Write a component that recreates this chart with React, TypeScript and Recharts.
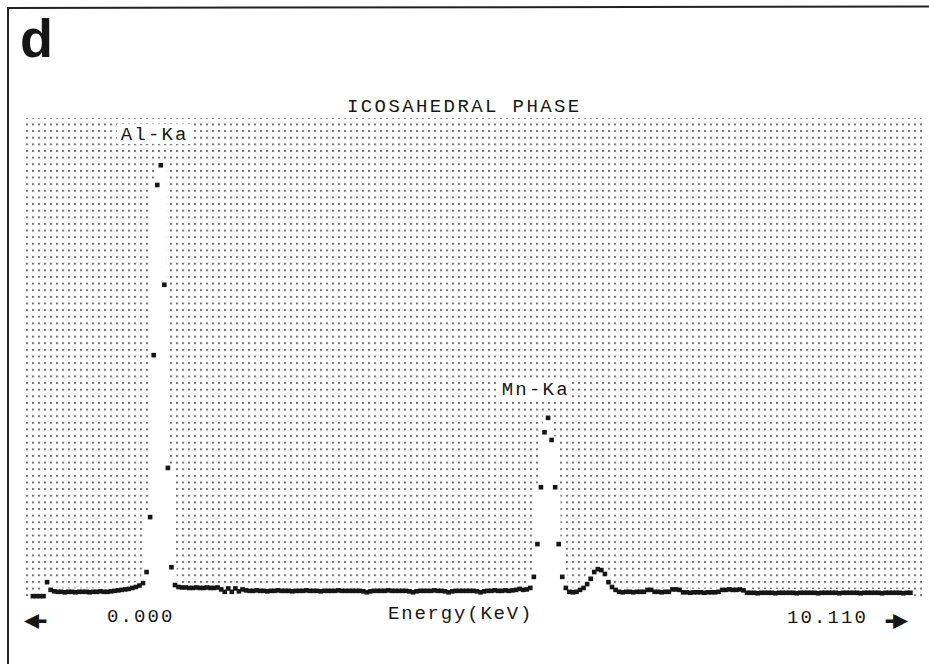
import { ComposedChart, Area, Line, XAxis, YAxis, CartesianGrid, ReferenceDot } from 'recharts'

// channel calibration of the analyser (keV)
const FIRST_CHANNEL_KEV = 0.1
const KEV_PER_CHANNEL = 0.04
const ENERGY_RANGE: [number, number] = [0, 10.11]
const COUNT_RANGE: [number, number] = [0, 1000]

// counts per channel
const counts = [
  8, 8, 8, 8, 37, 21,
  18, 17, 17, 16, 17, 17, 16, 17, 17, 17, 16, 17, 17, 18, 17, 17,
  18, 19, 20,
  21, 22, 23, 25, 27, 30, 35,
  58, 172, 508, 861, 902, 654, 274, 68, 31,
  27, 26, 26, 25, 25, 26, 25, 25, 26, 25, 25, 26,
  22, 17, 24, 17, 24, 18, 22,
  20, 19, 19, 20, 19, 19, 18, 19, 19, 20,
  19, 19, 19, 18, 19, 19, 19, 20, 19, 19,
  19, 18, 19, 19, 19, 19, 20, 19, 19, 19,
  19, 19, 19, 18, 16, 18, 19, 19, 19, 19,
  20, 19, 19, 19, 19, 19, 18, 16, 18, 19,
  19, 19, 19, 20, 19, 19, 18, 16, 18, 19,
  19, 19, 19, 19, 19, 18, 16, 18, 19, 19,
  20, 19, 19, 20, 19, 20, 21, 23, 21, 22,
  25, 48, 116, 234, 348, 378, 332, 234, 116, 48, 25,
  17, 16, 17, 21, 25, 33, 44, 58, 64, 62, 54, 37, 27, 21,
  17, 16, 17, 17, 16, 17, 17, 17,
  21, 21,
  17, 17, 16, 17, 17,
  22, 22, 21,
  16, 16, 15, 16, 16, 16, 15, 16, 16, 16, 17,
  21, 21, 22, 21, 21, 22, 20,
  15, 15, 15, 14, 15, 15, 15, 15, 14, 15,
  15, 15, 15, 15, 14, 15, 15, 15, 15, 15,
  14, 15, 15, 15, 15, 15, 14, 15, 15, 15,
  15, 15, 14, 15, 15, 15, 15, 15, 14, 15,
  15, 15, 15, 15, 14, 15, 15,
]

// peak annotations (keV, counts where the label sits)
const peakLabels = [
  { name: 'Al-Ka', kev: 1.46, count: 967 },
  { name: 'Mn-Ka', kev: 5.75, count: 438 },
]

const panelLetter = 'd'
const title = 'ICOSAHEDRAL PHASE'
const energyStart = '0.000'
const energyEnd = '10.110'
const axisTitle = 'Energy(KeV)'

const INK = '#161616'
const MONO = '"Liberation Mono", "DejaVu Sans Mono", monospace'

const spectrum = counts.map((c, i) => ({
  kev: FIRST_CHANNEL_KEV + i * KEV_PER_CHANNEL,
  counts: c,
}))

// square dots like the screen pixels
const SquareDot = (props: any) => {
  const { cx, cy, index } = props
  if (cx == null || cy == null) return <g key={`sq-${index}`} />
  return <rect key={`sq-${index}`} x={cx - 2.3} y={cy - 2.3} width={4.6} height={4.6} fill={INK} />
}

// label with a white box that clears the dotted screen
const peakLabel = (text: string) => (props: any) => {
  const vb = props.viewBox || {}
  const cx = (vb.x ?? 0) + (vb.width ?? 0) / 2
  const cy = (vb.y ?? 0) + (vb.height ?? 0) / 2
  const w = text.length * 13.6 + 6
  return (
    <g>
      <rect x={cx - w / 2} y={cy - 10} width={w} height={20} fill="#fff" />
      <text
        x={cx - w / 2 + 4}
        y={cy + 6}
        fontFamily={MONO}
        fontSize={19}
        letterSpacing={2.2}
        fill={INK}
      >
        {text}
      </text>
    </g>
  )
}

export default function App() {
  return (
    <div style={{ position: 'relative', width: 929, height: 664, overflow: 'hidden', background: '#fff' }}>
      <style>{`body{margin:0}`}</style>

      <svg width={0} height={0} style={{ position: 'absolute' }}>
        <defs>
          <pattern id="dotGrid" x={2.1} y={116.9} width={6} height={6.63} patternUnits="userSpaceOnUse">
            <rect x={0} y={0} width={1.8} height={1.8} fill="#565656" />
          </pattern>
        </defs>
      </svg>

      <div style={{ position: 'absolute', left: 0, top: 0 }}>
        <ComposedChart
          width={929}
          height={664}
          data={spectrum}
          margin={{ top: 118, right: 7, bottom: 64, left: 24 }}
        >
          <CartesianGrid horizontal={false} vertical={false} fill="url(#dotGrid)" fillOpacity={1} />
          <XAxis
            dataKey="kev"
            type="number"
            domain={ENERGY_RANGE}
            allowDataOverflow
            height={0}
            tick={false}
            tickLine={false}
            axisLine={{ stroke: INK, strokeWidth: 2 }}
          />
          <YAxis hide width={0} domain={COUNT_RANGE} allowDataOverflow />
          <Area
            type="step"
            dataKey="counts"
            baseValue={0}
            fill="#fff"
            fillOpacity={1}
            stroke="#fff"
            strokeWidth={7}
            dot={false}
            activeDot={false}
            isAnimationActive={false}
          />
          <Line
            dataKey="counts"
            stroke="none"
            dot={SquareDot}
            activeDot={false}
            isAnimationActive={false}
          />
          {peakLabels.map((p) => (
            <ReferenceDot
              key={p.name}
              x={p.kev}
              y={p.count}
              r={0}
              fill="none"
              stroke="none"
              label={peakLabel(p.name)}
            />
          ))}
        </ComposedChart>
      </div>

      <svg width={929} height={664} style={{ position: 'absolute', left: 0, top: 0, pointerEvents: 'none' }}>
        <line x1={8} y1={8} x2={940} y2={6.5} stroke="#222" strokeWidth={2} />
        <line x1={8} y1={7} x2={8} y2={670} stroke="#222" strokeWidth={2} />
        <text x={20} y={57} fontFamily='"Liberation Sans", Arial, sans-serif' fontWeight="bold" fontSize={54} fill={INK}>
          {panelLetter}
        </text>
        <text x={347} y={111.5} fontFamily={MONO} fontSize={19} letterSpacing={2.4} fill={INK}>
          {title}
        </text>
        <g fontFamily={MONO} fontSize={19} fill={INK}>
          <text x={24} y={628} fontFamily='"DejaVu Sans Mono", monospace' fontWeight="bold" fontSize={25} letterSpacing={-4}>◀-</text>
          <text x={107} y={622} letterSpacing={2.1}>{energyStart}</text>
          <text x={388} y={619} letterSpacing={1.8}>{axisTitle}</text>
          <text x={787} y={623} letterSpacing={2.1}>{energyEnd}</text>
          <text x={882} y={628} fontFamily='"DejaVu Sans Mono", monospace' fontWeight="bold" fontSize={25} letterSpacing={-4}>-▶</text>
        </g>
      </svg>
    </div>
  )
}
